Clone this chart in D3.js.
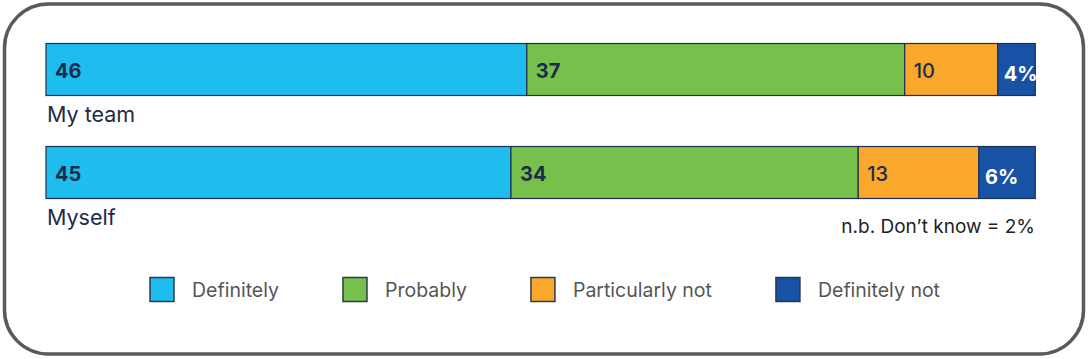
<!DOCTYPE html>
<html>
<head>
<meta charset="utf-8">
<script src="https://cdn.jsdelivr.net/npm/d3@7"></script>
<style>
  html, body { margin: 0; padding: 0; background: #fff; }
  svg { display: block; }
</style>
</head>
<body>
<svg id="chart" width="1088" height="359"></svg>
<script>
// ---- data ----
const categories = ["My team", "Myself"];
const seriesNames = ["Definitely", "Probably", "Particularly not", "Definitely not"];
// segment sizes (share of each bar, %)
const myTeamValues = [48.6, 38.2, 9.4, 3.8];
const myselfValues = [47.0, 35.1, 12.2, 5.7];
// printed labels
const myTeamLabels = ["46", "37", "10", "4%"];
const myselfLabels = ["45", "34", "13", "6%"];
const footnote = "n.b. Don\u2019t know = 2%";

// ---- styles ----
const colors = ["#1ebdee", "#77c04b", "#f9a82b", "#1852a4"];
const labelColors = ["#1b2d4c", "#1b2d4c", "#1b2d4c", "#ffffff"];
const labelWeights = [700, 700, 500, 700];
const font = "Inter, 'Open Sans', sans-serif";

const svg = d3.select("#chart");

// frame
svg.append("rect")
  .attr("x", 4.5).attr("y", 4).attr("width", 1079).attr("height", 350)
  .attr("rx", 44).attr("ry", 44)
  .attr("fill", "#fff").attr("stroke", "#5a5a5a").attr("stroke-width", 3.5);

const rows = [
  { name: categories[0], values: myTeamValues, labels: myTeamLabels },
  { name: categories[1], values: myselfValues, labels: myselfLabels }
];

const x = d3.scaleLinear().domain([0, 100]).range([46, 1035.3]);
const barH = 52;
const rowStep = 103;

rows.forEach((row, ri) => {
  const y0 = 43.5 + ri * rowStep;
  const sum = d3.sum(row.values);
  const xs = d3.scaleLinear().domain([0, sum]).range(x.range());
  let acc = 0;
  const segs = row.values.map((v, i) => {
    const s = { i, x0: acc, x1: acc + v, label: row.labels[i] };
    acc += v;
    return s;
  });
  const g = svg.append("g");
  g.selectAll("rect").data(segs).join("rect")
    .attr("x", d => xs(d.x0)).attr("y", y0)
    .attr("width", d => xs(d.x1) - xs(d.x0)).attr("height", barH)
    .attr("fill", d => colors[d.i])
    .attr("stroke", "#1d3050").attr("stroke-width", 1.2);
  g.selectAll("text").data(segs).join("text")
    .attr("x", d => xs(d.x0) + (d.i === 3 ? 6 : 9))
    .attr("y", d => y0 + barH / 2 + (d.i === 3 ? 11 : 8))
    .attr("fill", d => labelColors[d.i])
    .attr("font-family", font)
    .attr("font-size", 20)
    .attr("font-weight", d => labelWeights[d.i])
    .text(d => d.label);
  svg.append("text")
    .attr("x", 47).attr("y", y0 + barH + 26)
    .attr("fill", "#1e2b4a")
    .attr("font-family", font).attr("font-size", 21.5)
    .text(row.name);
});

// footnote
svg.append("text")
  .attr("x", 1035).attr("y", 233)
  .attr("text-anchor", "end")
  .attr("fill", "#222")
  .attr("font-family", font).attr("font-size", 19)
  .text(footnote);

// legend
const legend = svg.append("g");
const sq = 24, gapText = 18, itemGap = 64;
let lx = 150;
seriesNames.forEach((name, i) => {
  const it = legend.append("g").attr("transform", `translate(${lx},277.5)`);
  it.append("rect").attr("width", sq).attr("height", sq)
    .attr("fill", colors[i]).attr("stroke", "#2b3a4f").attr("stroke-width", 1.5);
  const t = it.append("text").attr("x", sq + gapText).attr("y", 19)
    .attr("fill", "#555").attr("font-family", font).attr("font-size", 19.5)
    .text(name);
  lx += sq + gapText + t.node().getComputedTextLength() + itemGap;
});
</script>
</body>
</html>
